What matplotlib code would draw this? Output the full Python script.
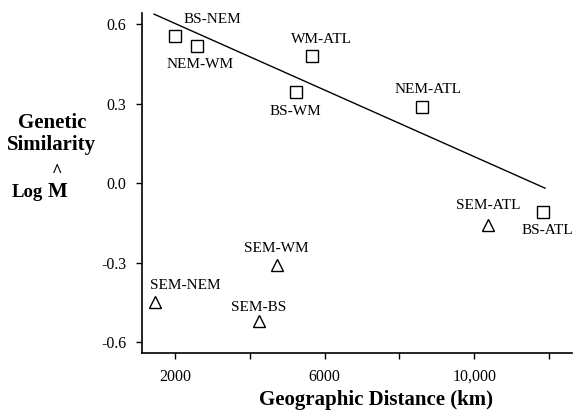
import numpy as np
from matplotlib import pyplot as plt

plt.rcParams['font.family'] = ['Liberation Serif', 'DejaVu Serif']

# pairs of populations: distance (km) vs log M-hat
sq_names = ['BS-NEM', 'NEM-WM', 'WM-ATL', 'BS-WM', 'NEM-ATL', 'BS-ATL']
sq_dist = [2000, 2590, 5650, 5230, 8610, 11840]
sq_logm = [0.555, 0.517, 0.479, 0.343, 0.287, -0.109]

tri_names = ['SEM-ATL', 'SEM-WM', 'SEM-NEM', 'SEM-BS']
tri_dist = [10370, 4720, 1470, 4240]
tri_logm = [-0.159, -0.309, -0.449, -0.521]

# regression line end points
line_x = [1440, 11890]
line_y = [0.638, -0.019]

# label offsets in points (dx, dy) from each marker
sq_offs = [(27, 12), (2, -13), (7, 12), (0, -14), (4, 13), (3, -13)]
tri_offs = [(0, 14), (0, 12), (22, 12), (0, 10)]

x_major = [2000, 6000, 10000]
x_major_lab = ['2000', '6000', '10,000']
x_minor = [4000, 8000, 12000]
y_ticks = [0.6, 0.3, 0.0, -0.3, -0.6]
y_lab = ['0.6', '0.3', '0.0', '-0.3', '-0.6']

fig = plt.figure(figsize=(5.75, 4.12), dpi=100)
ax = fig.add_axes([0.247, 0.143, 0.748, 0.825])

ax.plot(line_x, line_y, color='black', lw=1.0)
ax.plot(sq_dist, sq_logm, 's', ms=8.5, mfc='white', mec='black', mew=1.0)
ax.plot(tri_dist, tri_logm, '^', ms=8.5, mfc='white', mec='black', mew=1.0)

for nm, x, y, o in zip(sq_names, sq_dist, sq_logm, sq_offs):
    ax.annotate(nm, (x, y), xytext=o, textcoords='offset points',
                ha='center', va='center', fontsize=11)
for nm, x, y, o in zip(tri_names, tri_dist, tri_logm, tri_offs):
    ax.annotate(nm, (x, y), xytext=o, textcoords='offset points',
                ha='center', va='center', fontsize=11)

ax.set_xlim(1120, 12613)
ax.set_ylim(-0.6415, 0.6415)
ax.set_xticks(x_major)
ax.set_xticklabels(x_major_lab)
ax.set_xticks(x_minor, minor=True)
ax.set_yticks(y_ticks)
ax.set_yticklabels(y_lab)
ax.tick_params(which='both', direction='out', length=4.5, width=1, labelsize=11.5)
ax.tick_params(axis='x', pad=7)
ax.tick_params(axis='y', pad=7)

for s in ['top', 'right']:
    ax.spines[s].set_visible(False)
for s in ['left', 'bottom']:
    ax.spines[s].set_linewidth(1.2)

fig.text(376/575, 1 - 405/412, 'Geographic Distance (km)', ha='center',
         va='baseline', fontsize=15, fontweight='bold')
fig.text(52/575, 1 - 128/412, 'Genetic', ha='center', va='baseline',
         fontsize=15, fontweight='bold')
fig.text(52/575, 1 - 150/412, 'Similarity', ha='center', va='baseline',
         fontsize=15, fontweight='bold')
fig.text(12/575, 1 - 197/412, 'Log', ha='left', va='baseline',
         fontsize=13.5, fontweight='bold')
fig.text(48/575, 1 - 197/412, 'M', ha='left', va='baseline',
         fontsize=15, fontweight='bold')
fig.text(57/575, 1 - 172/412, '^', ha='center', va='center',
         fontsize=13, fontweight='bold')

fig.savefig('out.png', dpi=100)
